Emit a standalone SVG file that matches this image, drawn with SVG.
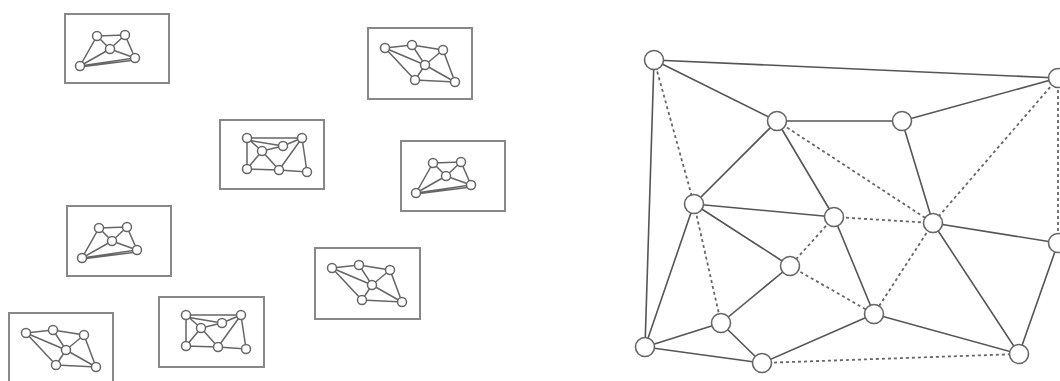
<svg xmlns="http://www.w3.org/2000/svg" xmlns:xlink="http://www.w3.org/1999/xlink" width="1060" height="381" viewBox="0 0 1060 381">
<style>
.box{fill:none;stroke:#888;stroke-width:2}
.se{stroke:#666;stroke-width:1.5;fill:none}
.sn{fill:#fff;stroke:#666;stroke-width:1.5}
.e{stroke:#555;stroke-width:1.6;fill:none}
.d{stroke:#666;stroke-width:1.8;fill:none;stroke-dasharray:3 3}
.n{fill:#fff;stroke:#666;stroke-width:1.6}
</style>
<defs>
<g id="t1">
<path class="se" d="M15,52 L32,22 L60,21 L70,44 L15,52 M15,52 L45,35 M32,22 L45,35 L60,21 M45,35 L70,44 M15,53 L70,46"/>
<circle class="sn" cx="32" cy="22" r="4.5"/><circle class="sn" cx="60" cy="21" r="4.5"/><circle class="sn" cx="45" cy="35" r="4.5"/><circle class="sn" cx="70" cy="44" r="4.5"/><circle class="sn" cx="15" cy="52" r="4.5"/>
</g>
<g id="t2">
<path class="se" d="M17,20 L44,17 L75,22 L87,54 L47,52 L17,20 M17,20 L57,37 M44,17 L57,37 L75,22 M57,37 L47,52 M57,37 L87,54"/>
<circle class="sn" cx="17" cy="20" r="4.5"/><circle class="sn" cx="44" cy="17" r="4.5"/><circle class="sn" cx="75" cy="22" r="4.5"/><circle class="sn" cx="57" cy="37" r="4.5"/><circle class="sn" cx="47" cy="52" r="4.5"/><circle class="sn" cx="87" cy="54" r="4.5"/>
</g>
<g id="t3">
<path class="se" d="M27,18 L82,18 M27,20 L63,26 M27,18 L27,49 L59,50 L87,52 L82,18 M27,18 L42,31 L27,49 M42,31 L59,50 M42,31 L63,26 M63,26 L82,18 M82,18 L59,50"/>
<circle class="sn" cx="27" cy="18" r="4.5"/><circle class="sn" cx="82" cy="18" r="4.5"/><circle class="sn" cx="42" cy="31" r="4.5"/><circle class="sn" cx="63" cy="26" r="4.5"/><circle class="sn" cx="27" cy="49" r="4.5"/><circle class="sn" cx="59" cy="50" r="4.5"/><circle class="sn" cx="87" cy="52" r="4.5"/>
</g>
</defs>
<rect width="1060" height="381" fill="#fff"/>
<g id="box1" transform="translate(65,14)"><rect class="box" width="104" height="69"/><use xlink:href="#t1"/></g>
<g id="box2" transform="translate(368,28)"><rect class="box" width="104" height="71"/><use xlink:href="#t2"/></g>
<g id="box3" transform="translate(220,120)"><rect class="box" width="104" height="69"/><use xlink:href="#t3"/></g>
<g id="box4" transform="translate(401,141)"><rect class="box" width="104" height="70"/><use xlink:href="#t1"/></g>
<g id="box5" transform="translate(67,206)"><rect class="box" width="104" height="70"/><use xlink:href="#t1"/></g>
<g id="box6" transform="translate(315,248)"><rect class="box" width="105" height="71"/><use xlink:href="#t2"/></g>
<g id="box7" transform="translate(159,297)"><rect class="box" width="105" height="70"/><use xlink:href="#t3"/></g>
<g id="box8" transform="translate(9,313)"><rect class="box" width="104" height="72"/><use xlink:href="#t2"/></g>
<g id="connectors">
<path class="e" d="M654,60 L1058,78 M654,60 L777,121 M654,60 L645,347 M777,121 L902,121 M777,121 L694,204 M777,121 L834,217 M902,121 L1058,78 M902,121 L933,223 M933,223 L1058,243 M933,223 L1019,354 M1058,243 L1019,354 M834,217 L874,314 M694,204 L834,217 M694,204 L790,266 M694,204 L645,347 M790,266 L721,323 M721,323 L645,347 M721,323 L762,363 M645,347 L762,363 M762,363 L874,314 M874,314 L1019,354"/>
<path class="d" d="M654,60 L694,204 M777,121 L933,223 M1058,78 L933,223 M1058,78 L1058,243 M834,217 L933,223 M933,223 L874,314 M834,217 L790,266 M694,204 L721,323 M790,266 L874,314 M762,363 L1019,354"/>
</g>
<g id="nA"><circle class="n" cx="654" cy="60" r="9.5"/></g>
<g id="nB"><circle class="n" cx="1058" cy="78" r="9.5"/></g>
<g id="nC"><circle class="n" cx="777" cy="121" r="9.5"/></g>
<g id="nD"><circle class="n" cx="902" cy="121" r="9.5"/></g>
<g id="nE"><circle class="n" cx="694" cy="204" r="9.5"/></g>
<g id="nF"><circle class="n" cx="834" cy="217" r="9.5"/></g>
<g id="nG"><circle class="n" cx="933" cy="223" r="9.5"/></g>
<g id="nH"><circle class="n" cx="1058" cy="243" r="9.5"/></g>
<g id="nI"><circle class="n" cx="790" cy="266" r="9.5"/></g>
<g id="nJ"><circle class="n" cx="874" cy="314" r="9.5"/></g>
<g id="nK"><circle class="n" cx="721" cy="323" r="9.5"/></g>
<g id="nL"><circle class="n" cx="645" cy="347" r="9.5"/></g>
<g id="nM"><circle class="n" cx="762" cy="363" r="9.5"/></g>
<g id="nN"><circle class="n" cx="1019" cy="354" r="9.5"/></g>
</svg>
